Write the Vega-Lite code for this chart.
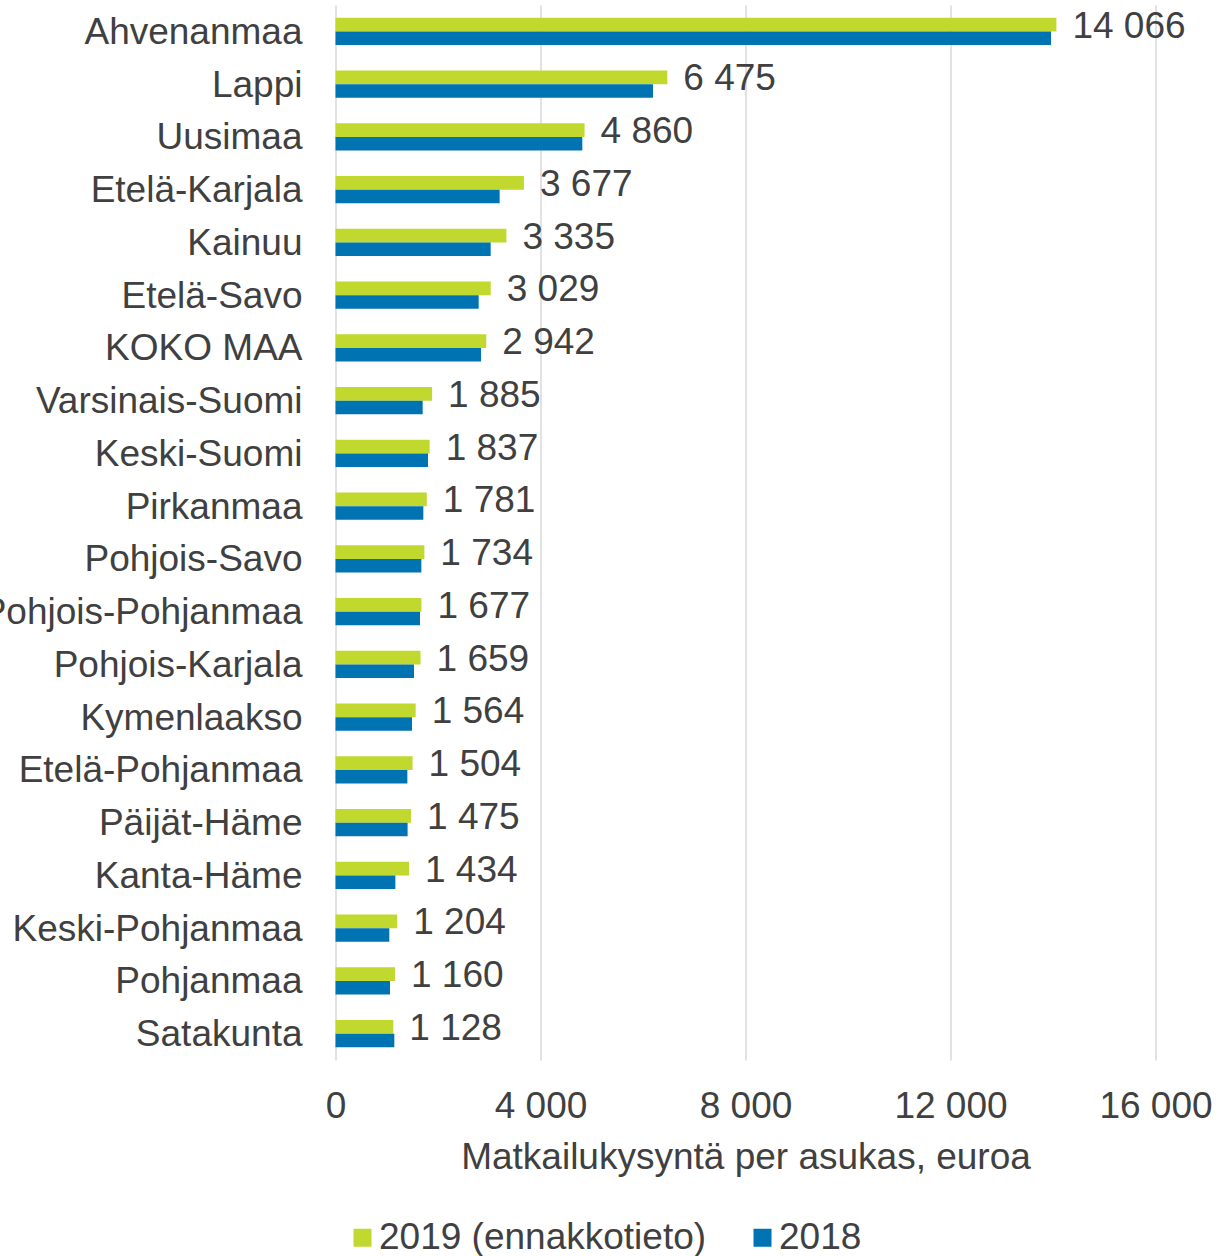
{
  "$schema": "https://vega.github.io/schema/vega-lite/v6.json",
  "width": 820,
  "height": 1055,
  "autosize": {"type": "none"},
  "padding": {"left": 335.5, "top": 5, "right": 63.5, "bottom": 196},
  "config": {
    "font": "Liberation Sans",
    "view": {"stroke": null},
    "locale": {"number": {"decimal": ",", "thousands": " ", "grouping": [3], "currency": ["", " €"]}}
  },
  "data": {
    "values": [
      {"alue": "Ahvenanmaa", "vuosi": "2019 (ennakkotieto)", "arvo": 14066},
      {"alue": "Ahvenanmaa", "vuosi": "2018", "arvo": 13961},
      {"alue": "Lappi", "vuosi": "2019 (ennakkotieto)", "arvo": 6475},
      {"alue": "Lappi", "vuosi": "2018", "arvo": 6195},
      {"alue": "Uusimaa", "vuosi": "2019 (ennakkotieto)", "arvo": 4860},
      {"alue": "Uusimaa", "vuosi": "2018", "arvo": 4816},
      {"alue": "Etelä-Karjala", "vuosi": "2019 (ennakkotieto)", "arvo": 3677},
      {"alue": "Etelä-Karjala", "vuosi": "2018", "arvo": 3203},
      {"alue": "Kainuu", "vuosi": "2019 (ennakkotieto)", "arvo": 3335},
      {"alue": "Kainuu", "vuosi": "2018", "arvo": 3028},
      {"alue": "Etelä-Savo", "vuosi": "2019 (ennakkotieto)", "arvo": 3029},
      {"alue": "Etelä-Savo", "vuosi": "2018", "arvo": 2794},
      {"alue": "KOKO MAA", "vuosi": "2019 (ennakkotieto)", "arvo": 2942},
      {"alue": "KOKO MAA", "vuosi": "2018", "arvo": 2840},
      {"alue": "Varsinais-Suomi", "vuosi": "2019 (ennakkotieto)", "arvo": 1885},
      {"alue": "Varsinais-Suomi", "vuosi": "2018", "arvo": 1701},
      {"alue": "Keski-Suomi", "vuosi": "2019 (ennakkotieto)", "arvo": 1837},
      {"alue": "Keski-Suomi", "vuosi": "2018", "arvo": 1805},
      {"alue": "Pirkanmaa", "vuosi": "2019 (ennakkotieto)", "arvo": 1781},
      {"alue": "Pirkanmaa", "vuosi": "2018", "arvo": 1714},
      {"alue": "Pohjois-Savo", "vuosi": "2019 (ennakkotieto)", "arvo": 1734},
      {"alue": "Pohjois-Savo", "vuosi": "2018", "arvo": 1675},
      {"alue": "Pohjois-Pohjanmaa", "vuosi": "2019 (ennakkotieto)", "arvo": 1677},
      {"alue": "Pohjois-Pohjanmaa", "vuosi": "2018", "arvo": 1649},
      {"alue": "Pohjois-Karjala", "vuosi": "2019 (ennakkotieto)", "arvo": 1659},
      {"alue": "Pohjois-Karjala", "vuosi": "2018", "arvo": 1532},
      {"alue": "Kymenlaakso", "vuosi": "2019 (ennakkotieto)", "arvo": 1564},
      {"alue": "Kymenlaakso", "vuosi": "2018", "arvo": 1493},
      {"alue": "Etelä-Pohjanmaa", "vuosi": "2019 (ennakkotieto)", "arvo": 1504},
      {"alue": "Etelä-Pohjanmaa", "vuosi": "2018", "arvo": 1402},
      {"alue": "Päijät-Häme", "vuosi": "2019 (ennakkotieto)", "arvo": 1475},
      {"alue": "Päijät-Häme", "vuosi": "2018", "arvo": 1407},
      {"alue": "Kanta-Häme", "vuosi": "2019 (ennakkotieto)", "arvo": 1434},
      {"alue": "Kanta-Häme", "vuosi": "2018", "arvo": 1168},
      {"alue": "Keski-Pohjanmaa", "vuosi": "2019 (ennakkotieto)", "arvo": 1204},
      {"alue": "Keski-Pohjanmaa", "vuosi": "2018", "arvo": 1050},
      {"alue": "Pohjanmaa", "vuosi": "2019 (ennakkotieto)", "arvo": 1160},
      {"alue": "Pohjanmaa", "vuosi": "2018", "arvo": 1063},
      {"alue": "Satakunta", "vuosi": "2019 (ennakkotieto)", "arvo": 1128},
      {"alue": "Satakunta", "vuosi": "2018", "arvo": 1148}
    ]
  },
  "encoding": {
    "y": {
      "field": "alue",
      "type": "nominal",
      "sort": null,
      "scale": {"paddingInner": 0.488, "paddingOuter": 0.244},
      "axis": {
        "title": null,
        "labelFontSize": 37,
        "labelColor": "#404040",
        "ticks": false,
        "domain": false,
        "labelPadding": 33.5,
        "labelLimit": 600,
        "labelOffset": 1.5
      }
    },
    "yOffset": {
      "field": "vuosi",
      "type": "nominal",
      "sort": ["2019 (ennakkotieto)", "2018"],
      "scale": {"domain": ["2019 (ennakkotieto)", "2018"], "paddingInner": 0, "paddingOuter": 0}
    }
  },
  "layer": [
    {
      "mark": {"type": "bar"},
      "encoding": {
        "x": {
          "field": "arvo",
          "type": "quantitative",
          "scale": {"domain": [0, 16000], "nice": false},
          "axis": {
            "values": [0, 4000, 8000, 12000, 16000],
            "format": ",d",
            "grid": true,
            "gridColor": "#D9D9D9",
            "gridWidth": 1.5,
            "domain": false,
            "ticks": false,
            "labelFontSize": 37,
            "labelColor": "#404040",
            "labelPadding": 28,
            "labelFlush": false,
            "title": "Matkailukysyntä per asukas, euroa",
            "titleFontSize": 37,
            "titleFontWeight": "normal",
            "titleColor": "#404040",
            "titlePadding": 15
          }
        },
        "color": {
          "field": "vuosi",
          "type": "nominal",
          "scale": {"domain": ["2019 (ennakkotieto)", "2018"], "range": ["#C1D82F", "#0073B2"]},
          "legend": {
            "orient": "none",
            "legendX": 8.5,
            "legendY": 1214,
            "direction": "horizontal",
            "title": null,
            "symbolType": "square",
            "symbolSize": 324,
            "symbolStrokeWidth": 0,
            "labelFontSize": 37,
            "labelColor": "#404040",
            "labelLimit": 600,
            "labelOffset": -2,
            "columnPadding": 37,
            "padding": 0
          }
        }
      }
    },
    {
      "transform": [{"filter": "datum.vuosi === '2019 (ennakkotieto)'"}],
      "mark": {"type": "text", "align": "left", "baseline": "middle", "dx": 16, "dy": 2, "fontSize": 37, "color": "#404040"},
      "encoding": {
        "x": {"field": "arvo", "type": "quantitative"},
        "text": {"field": "arvo", "type": "quantitative", "format": ",d"}
      }
    }
  ]
}
